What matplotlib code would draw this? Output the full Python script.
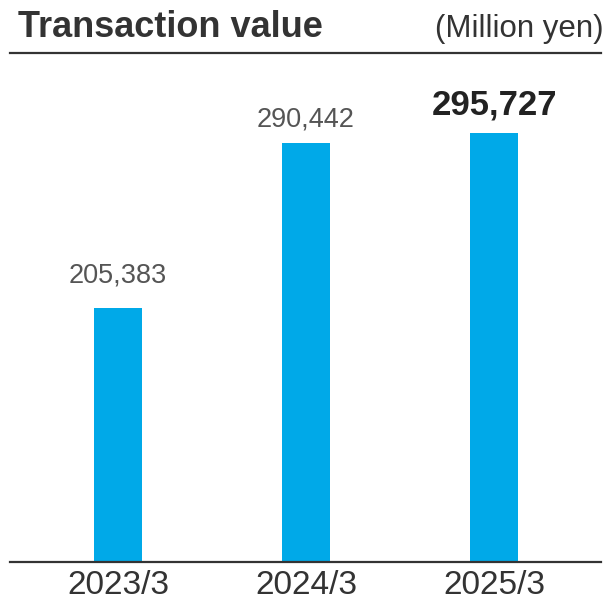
import matplotlib.pyplot as plt

# data
periods = ['2023/3', '2024/3', '2025/3']
values = [205383, 290442, 295727]

bar_color = '#00A9E8'
line_color = '#333333'

fig = plt.figure(figsize=(6.11, 6.05), dpi=100)
# axes: left/right edges follow the rules, top spine = line under the title
ax = fig.add_axes([10 / 611, 43 / 605, 591 / 611, 509 / 605])

x = list(range(len(periods)))
ax.bar(x, values, width=0.255, color=bar_color, zorder=2)

ax.set_xlim(-0.574, 2.569)
ax.set_ylim(74600, 336970)

for s in ['left', 'right']:
    ax.spines[s].set_visible(False)
for s in ['top', 'bottom']:
    ax.spines[s].set_color(line_color)
    ax.spines[s].set_linewidth(1.6)

ax.set_yticks([])
ax.set_xticks(x, periods, fontsize=24, color='#333333', family='Liberation Sans')
ax.tick_params(axis='x', length=0, pad=6)

# value labels, the latest year in bold
pads = [14, 8, 8]
for i, v in enumerate(values):
    last = i == len(values) - 1
    ax.annotate(f'{v:,}', (x[i], v), xytext=(0, pads[i]), textcoords='offset points',
                ha='center', va='bottom', family='Liberation Sans',
                fontsize=25 if last else 19.5,
                fontweight='bold' if last else 'normal',
                color='#222222' if last else '#555555')

fig.text(18 / 611, 1 - 37 / 605, 'Transaction value', fontsize=26, fontweight='bold',
         color='#333333', family='Liberation Sans', va='baseline', ha='left')
fig.text(604 / 611, 1 - 37 / 605, '(Million yen)', fontsize=22.5,
         color='#333333', family='Liberation Sans', va='baseline', ha='right')

fig.savefig('out.png', dpi=100)
